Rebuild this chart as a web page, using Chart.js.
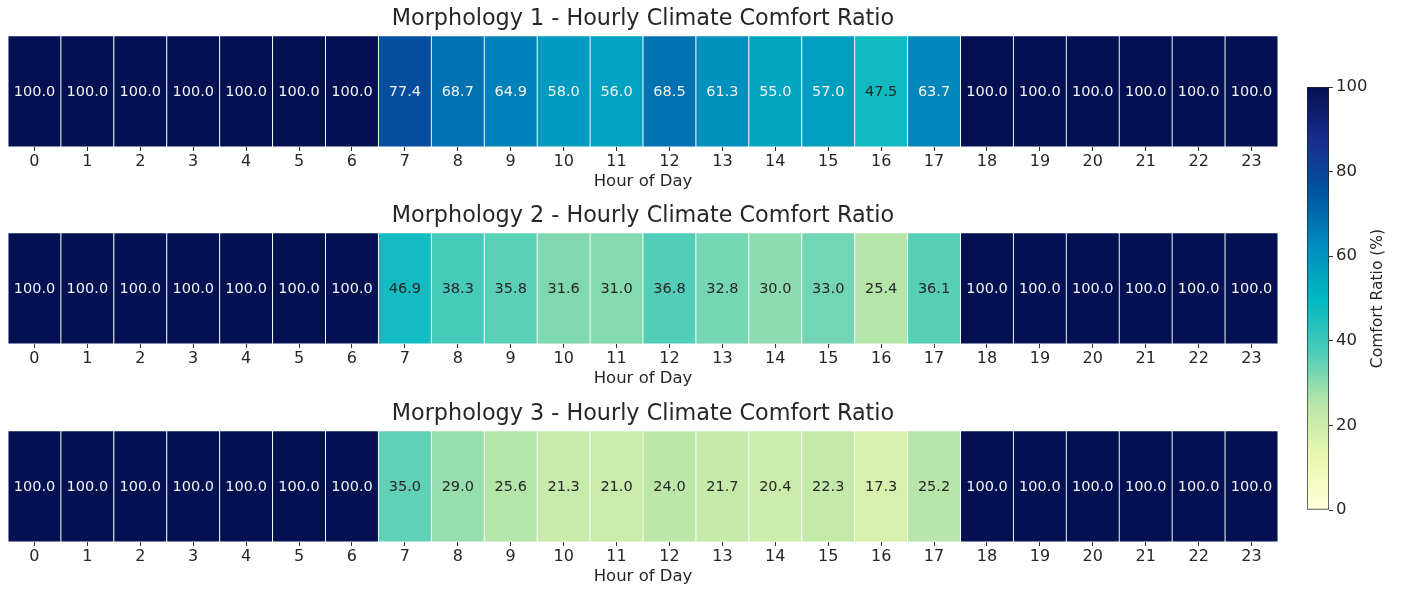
<!DOCTYPE html>
<html>
<head>
<meta charset="utf-8">
<script src="https://cdn.jsdelivr.net/npm/chart.js@4.4.1/dist/chart.umd.min.js"></script>
<style>
  html, body { margin: 0; padding: 0; background: #fff; width: 1401px; height: 590px; overflow: hidden; }
  .panel { position: absolute; left: 0; }
  #cbarBox { position: absolute; left: 1290px; top: 0; }
</style>
</head>
<body>
<div class="panel" style="top:0px"><canvas id="m1" width="1290" height="197"></canvas></div>
<div class="panel" style="top:197px"><canvas id="m2" width="1290" height="197"></canvas></div>
<div class="panel" style="top:395px"><canvas id="m3" width="1290" height="197"></canvas></div>
<div id="cbarBox"><canvas id="cbar" width="111" height="590"></canvas></div>
<script>
const hours = ['0','1','2','3','4','5','6','7','8','9','10','11','12','13','14','15','16','17','18','19','20','21','22','23'];

const morph1 = [100, 100, 100, 100, 100, 100, 100, 77.4, 68.7, 64.9, 58.0, 56.0, 68.5, 61.3, 55.0, 57.0, 47.5, 63.7, 100, 100, 100, 100, 100, 100];
const morph2 = [100, 100, 100, 100, 100, 100, 100, 46.9, 38.3, 35.8, 31.6, 31.0, 36.8, 32.8, 30.0, 33.0, 25.4, 36.1, 100, 100, 100, 100, 100, 100];
const morph3 = [100, 100, 100, 100, 100, 100, 100, 35.0, 29.0, 25.6, 21.3, 21.0, 24.0, 21.7, 20.4, 22.3, 17.3, 25.2, 100, 100, 100, 100, 100, 100];

const cbarTicks = [0, 20, 40, 60, 80, 100];

const FONT = "'DejaVu Sans', sans-serif";

// YlGnBu-like colour map, tuned to the picture
const cmapStops = [
  [0,    [255, 255, 217]],
  [12.5, [234, 247, 177]],
  [25,   [185, 230, 168]],
  [37.5, [75, 204, 185]],
  [50,   [0, 183, 195]],
  [62.5, [0, 140, 190]],
  [75,   [0, 85, 163]],
  [87.5, [25, 45, 140]],
  [100,  [3, 17, 82]]
];

function cmapRgb(v) {
  for (let i = 1; i < cmapStops.length; i++) {
    const [v0, c0] = cmapStops[i - 1];
    const [v1, c1] = cmapStops[i];
    if (v <= v1) {
      const t = (v - v0) / (v1 - v0);
      return c0.map((c, k) => Math.round(c + (c1[k] - c) * t));
    }
  }
  return cmapStops[cmapStops.length - 1][1];
}
const cmap = (v) => 'rgb(' + cmapRgb(v).join(',') + ')';

function textColor(v) {
  const lum = cmapRgb(v).map((c) => {
    c /= 255;
    return c <= 0.03928 ? c / 12.92 : Math.pow((c + 0.055) / 1.055, 2.4);
  });
  const L = 0.2126 * lum[0] + 0.7152 * lum[1] + 0.0722 * lum[2];
  return L < 0.37 ? '#f2f2f2' : '#262626';
}

// write the value inside every cell
const cellLabels = {
  id: 'cellLabels',
  afterDatasetsDraw(chart) {
    const ds = chart.data.datasets[0];
    const ctx = chart.ctx;
    ctx.save();
    ctx.font = '14.5px ' + FONT;
    ctx.textAlign = 'center';
    ctx.textBaseline = 'middle';
    chart.getDatasetMeta(0).data.forEach((bar, i) => {
      const { x, y, base } = bar.getProps(['x', 'y', 'base'], true);
      ctx.fillStyle = textColor(ds.values[i]);
      ctx.fillText(ds.values[i].toFixed(1), x, (y + base) / 2 + 1);
    });
    ctx.restore();
  }
};

function makePanel(id, title, values) {
  new Chart(document.getElementById(id), {
    type: 'bar',
    data: {
      labels: hours,
      datasets: [{
        values: values,
        data: values.map(() => [0, 1]),
        backgroundColor: (c) => cmap(values[c.dataIndex]),
        borderColor: '#ffffff',
        borderWidth: 0.8,
        borderSkipped: false,
        barPercentage: 1,
        categoryPercentage: 1
      }]
    },
    options: {
      responsive: false,
      animation: false,
      events: [],
      layout: { padding: { left: 8, right: 12, top: 0, bottom: 0 } },
      plugins: {
        legend: { display: false },
        tooltip: { enabled: false },
        title: {
          display: true,
          text: title,
          color: '#262626',
          font: { family: FONT, size: 22.3, weight: 'normal' },
          padding: { top: 6, bottom: 3 }
        }
      },
      scales: {
        x: {
          grid: { display: true, drawOnChartArea: false, drawTicks: true, tickLength: 4, offset: false, color: '#333' },
          border: { display: false },
          ticks: { color: '#262626', font: { family: FONT, size: 16 }, padding: 1, maxRotation: 0, autoSkip: false },
          title: { display: true, text: 'Hour of Day', color: '#262626', font: { family: FONT, size: 16.5 }, padding: { top: 0, bottom: 5 } },
          afterFit: (s) => { s.height = 50; }
        },
        y: { display: false, min: 0, max: 1 }
      }
    },
    plugins: [cellLabels]
  });
}

makePanel('m1', 'Morphology 1 - Hourly Climate Comfort Ratio', morph1);
makePanel('m2', 'Morphology 2 - Hourly Climate Comfort Ratio', morph2);
makePanel('m3', 'Morphology 3 - Hourly Climate Comfort Ratio', morph3);

// colour bar
const cbarTitle = {
  id: 'cbarTitle',
  afterDraw(chart) {
    const { ctx, chartArea } = chart;
    ctx.save();
    ctx.translate(88, (chartArea.top + chartArea.bottom) / 2);
    ctx.rotate(-Math.PI / 2);
    ctx.font = '15.5px ' + FONT;
    ctx.fillStyle = '#262626';
    ctx.textAlign = 'center';
    ctx.textBaseline = 'middle';
    ctx.fillText('Comfort Ratio (%)', 0, 0);
    ctx.restore();
  }
};

new Chart(document.getElementById('cbar'), {
  type: 'bar',
  data: {
    labels: [''],
    datasets: [{
      data: [[cbarTicks[0], cbarTicks[cbarTicks.length - 1]]],
      backgroundColor: (c) => {
        const chart = c.chart;
        if (!chart.chartArea) return null;
        const ys = chart.scales.y;
        const g = chart.ctx.createLinearGradient(0, ys.getPixelForValue(0), 0, ys.getPixelForValue(100));
        cmapStops.forEach(([v]) => g.addColorStop(v / 100, cmap(v)));
        return g;
      },
      borderColor: '#222',
      borderWidth: 1,
      borderSkipped: false,
      barPercentage: 1,
      categoryPercentage: 1
    }]
  },
  options: {
    responsive: false,
    animation: false,
    events: [],
    layout: { padding: { left: 17, right: 0, top: 87, bottom: 80 } },
    plugins: { legend: { display: false }, tooltip: { enabled: false } },
    scales: {
      x: { display: false },
      y: {
        position: 'right',
        min: 0,
        max: 100,
        afterBuildTicks: (s) => { s.ticks = cbarTicks.map((v) => ({ value: v })); },
        grid: { drawOnChartArea: false, drawTicks: true, tickLength: 4, color: '#333' },
        border: { display: false },
        ticks: { color: '#262626', font: { family: FONT, size: 16.5 }, padding: 3 },
        afterFit: (s) => { s.width = 72; }
      }
    }
  },
  plugins: [cbarTitle]
});
</script>
</body>
</html>
